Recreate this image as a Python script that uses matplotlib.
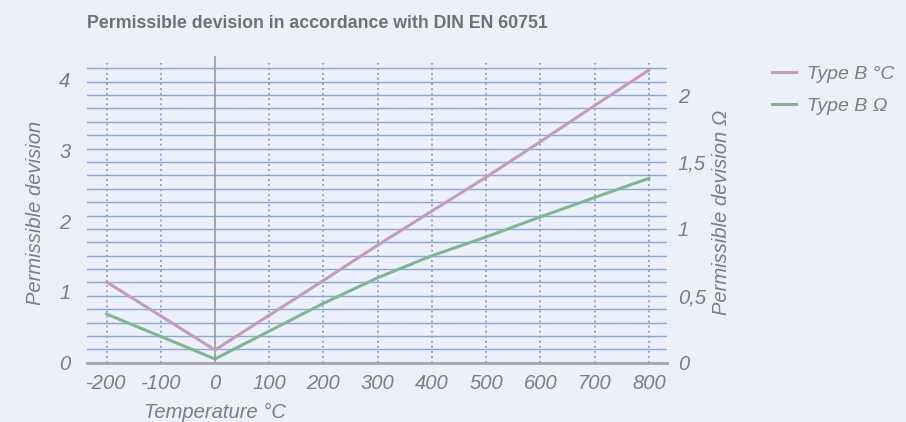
import matplotlib
matplotlib.use("Agg")
import matplotlib.pyplot as plt
import numpy as np

# data
temps = [-200, -100, 0, 100, 200, 300, 400, 500, 600, 700, 800]
dev_degc = [1.14, 0.66, 0.18, 0.67, 1.16, 1.66, 2.14, 2.62, 3.12, 3.63, 4.13]
dev_ohm = [0.364, 0.196, 0.028, 0.236, 0.444, 0.635, 0.80, 0.94, 1.09, 1.235, 1.378]
x_ticks = [-200, -100, 0, 100, 200, 300, 400, 500, 600, 700, 800]
left_ticks = [0, 1, 2, 3, 4]
right_ticks = [0, 0.5, 1, 1.5, 2]
right_labels = ["0", "0,5", "1", "1,5", "2"]

bg = "#ecf0fa"
txt = "#7b7d80"
grid_c = "#8ba7d6"
pink = "#c59bbb"
green = "#82b594"

plt.rcParams["font.family"] = ["Liberation Sans", "DejaVu Sans"]

fig = plt.figure(figsize=(9.06, 4.22), dpi=100, facecolor=bg)
ax = fig.add_axes([0.096, 0.1405, 0.640, 0.7102])
ax2 = ax.twinx()

# right axis sits below, carries background + grid + green line
ax.set_zorder(ax2.get_zorder() + 1)
ax.patch.set_visible(False)
ax2.patch.set_visible(True)
ax2.patch.set_facecolor(bg)

ax.set_xlim(-236, 833)
ax.set_ylim(0, 4.23)
ax2.set_ylim(0, 2.24)

# horizontal grid every 0.1 Ohm
for v in np.arange(0.1, 2.25, 0.1):
    ax2.axhline(v, color=grid_c, lw=1.0, zorder=0.5)
# dotted vertical grid
for t in x_ticks:
    if t != 0:
        ax2.axvline(t, color=grid_c, lw=1.4, ls=(0, (1, 1.6)), zorder=0.6)

ax2.plot(temps, dev_ohm, color=green, lw=2.2, label="Type B \u03a9", zorder=3)
ax.plot(temps, dev_degc, color=pink, lw=2.2, label="Type B \u00b0C", zorder=3)

ax.axvline(0, color="#9a9a9a", lw=1.2, ymax=1.02, clip_on=False, zorder=1)

for a in (ax, ax2):
    for s in a.spines.values():
        s.set_visible(False)
ax.spines["bottom"].set_visible(True)
ax.spines["bottom"].set_color("#a6a6a6")
ax.spines["bottom"].set_linewidth(2)

tick_font = dict(fontsize=14.5, style="italic", color=txt)
ax.set_xticks(x_ticks)
ax.set_xticklabels([str(t) for t in x_ticks], **tick_font)
ax.set_yticks(left_ticks)
ax.set_yticklabels([str(t) for t in left_ticks], **tick_font)
ax2.set_yticks(right_ticks)
ax2.set_yticklabels(right_labels, **tick_font)
ax.tick_params(axis="x", length=0, pad=8)
ax.tick_params(axis="y", length=0, pad=12)
ax2.tick_params(axis="y", length=0, pad=8)

lab_font = dict(fontsize=14.5, style="italic", color=txt)
ax.set_xlabel("Temperature \u00b0C", **lab_font)
ax.xaxis.set_label_coords((0 + 236) / (833 + 236), -0.135)
ax.set_ylabel("Permissible devision", labelpad=10, **lab_font)
ax2.set_ylabel("Permissible devision \u03a9", labelpad=4, **lab_font)

fig.text(0.096, 0.945, "Permissible devision in accordance with DIN EN 60751",
         fontsize=12.8, fontweight="bold", color="#6e7176", va="center", ha="left")

h1, l1 = ax.get_legend_handles_labels()
h2, l2 = ax2.get_legend_handles_labels()
leg = fig.legend(h1 + h2, l1 + l2, loc="upper left", bbox_to_anchor=(0.833, 0.886),
                 frameon=False, handlelength=1.2, handletextpad=0.6, labelspacing=0.72,
                 prop=dict(size=14, style="italic"))
for t in leg.get_texts():
    t.set_color(txt)

fig.savefig("out.png", dpi=100, facecolor=bg)
